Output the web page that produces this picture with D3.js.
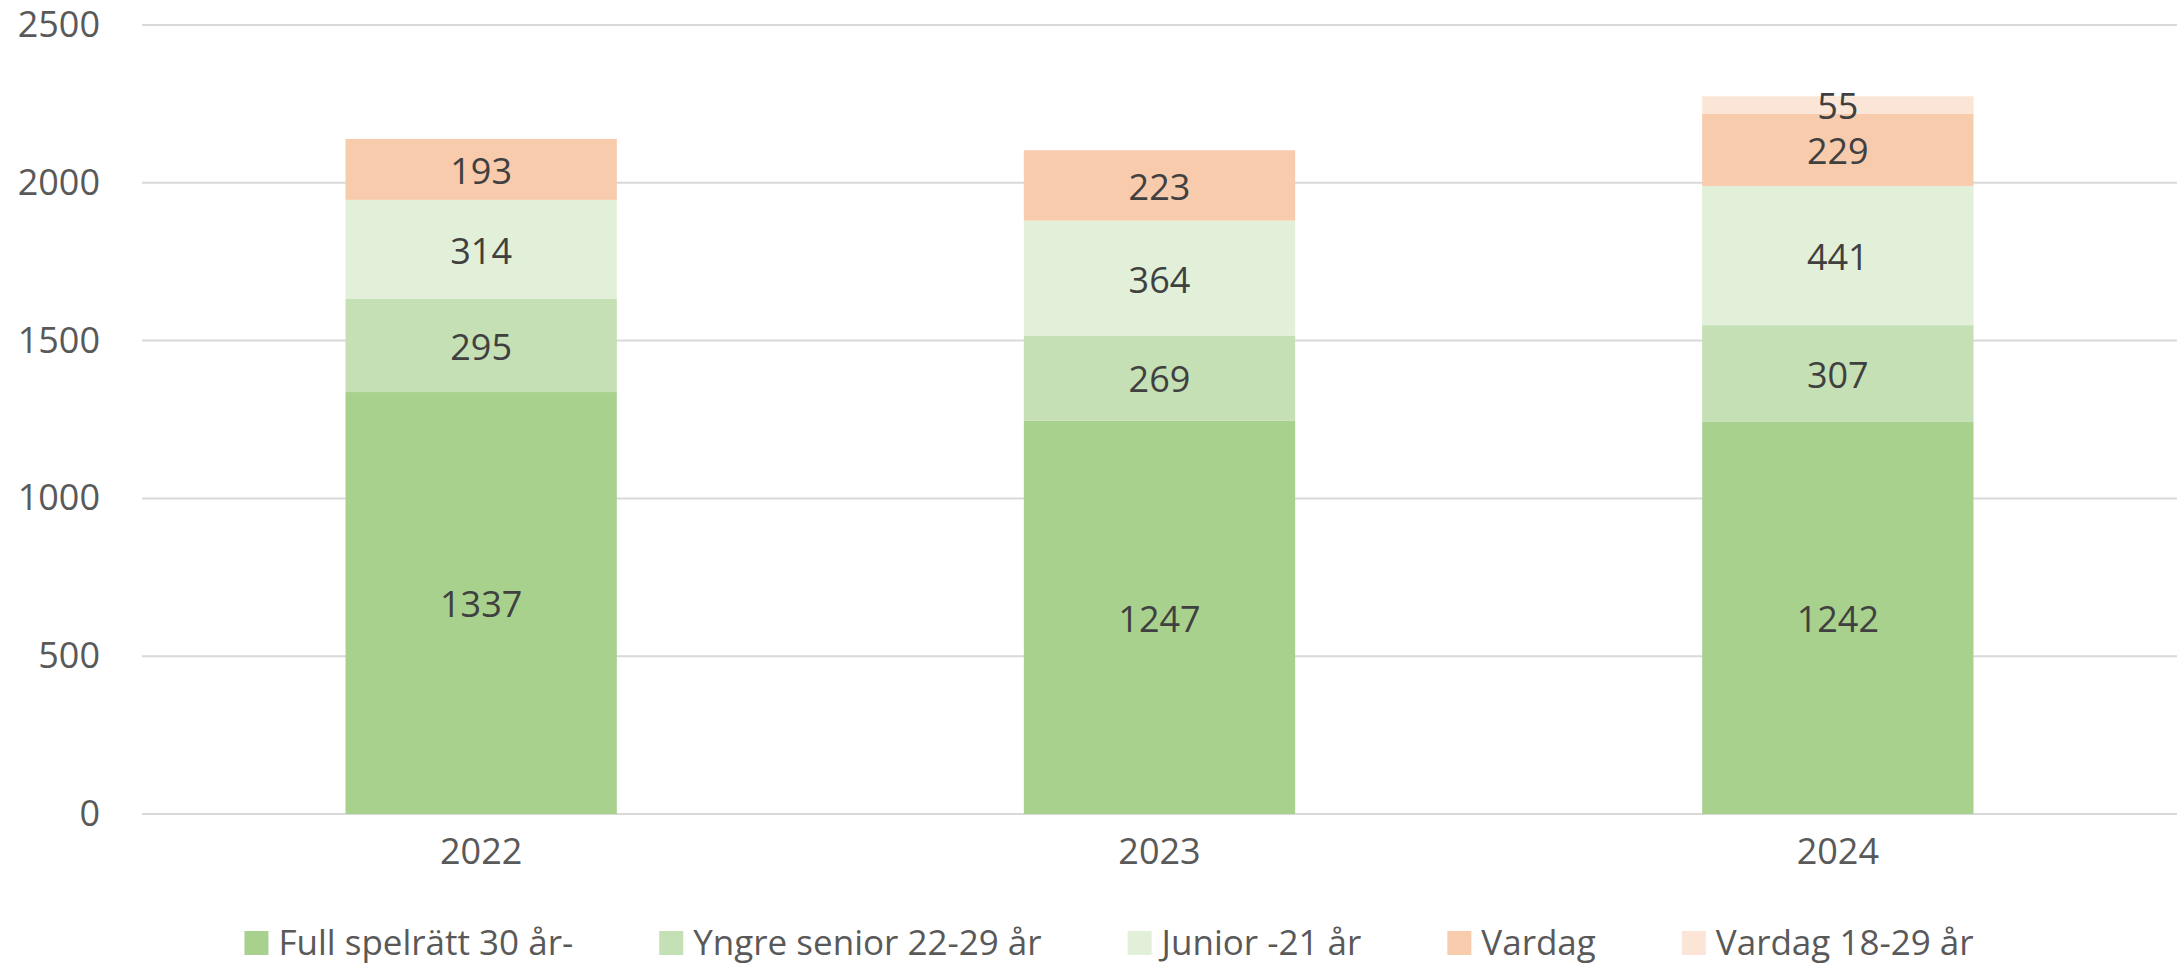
<!DOCTYPE html>
<html>
<head>
<meta charset="utf-8">
<script src="https://cdn.jsdelivr.net/npm/d3@7"></script>
<style>
  body { margin: 0; background: #fff; }
  text { font-family: "Open Sans", "Noto Sans", sans-serif; }
</style>
</head>
<body>
<div id="chart"></div>
<script>
// data
var years = ["2022", "2023", "2024"];
var seriesNames = ["Full spelrätt 30 år-", "Yngre senior 22-29 år", "Junior -21 år", "Vardag", "Vardag 18-29 år"];
var fullSpelratt = [1337, 1247, 1242];
var yngreSenior = [295, 269, 307];
var junior = [314, 364, 441];
var vardag = [193, 223, 229];
var vardag1829 = [0, 0, 55];
var yTicks = [0, 500, 1000, 1500, 2000, 2500];
var seriesColors = ["#a9d18e", "#c5e0b4", "#e2f0d9", "#f8cbad", "#fbe5d6"];

var totalWidth = 2180, totalHeight = 966;
var margin = {top: 25, right: 3, bottom: 152, left: 142},
    width = totalWidth - margin.left - margin.right,
    height = totalHeight - margin.top - margin.bottom;

var rows = years.map(function(y, i) {
    return {
        year: y,
        s0: fullSpelratt[i],
        s1: yngreSenior[i],
        s2: junior[i],
        s3: vardag[i],
        s4: vardag1829[i]
    };
});
var keys = ["s0", "s1", "s2", "s3", "s4"];

var svg = d3.select("#chart")
    .append("svg")
    .attr("width", totalWidth)
    .attr("height", totalHeight);

var g = svg.append("g")
    .attr("transform", "translate(" + margin.left + "," + margin.top + ")");

var x = d3.scaleBand()
    .domain(years)
    .range([0, width])
    .paddingInner(0.6)
    .paddingOuter(0.3);

var y = d3.scaleLinear()
    .domain([0, 2500])
    .range([height, 0]);

// gridlines
g.append("g")
    .selectAll("line")
    .data(yTicks)
    .enter()
    .append("line")
    .attr("x1", 0)
    .attr("x2", width)
    .attr("y1", function(d) { return y(d); })
    .attr("y2", function(d) { return y(d); })
    .style("stroke", "#d9d9d9")
    .style("stroke-width", 2);

// y axis labels
var yAxis = g.append("g")
    .call(d3.axisLeft(y).tickValues(yTicks).tickFormat(d3.format("d")).tickSize(0).tickPadding(42));
yAxis.select(".domain").remove();
yAxis.selectAll("text")
    .style("font-size", "36px")
    .style("font-family", "'Open Sans', sans-serif")
    .style("fill", "#595959");

// x axis labels
var xAxis = g.append("g")
    .attr("transform", "translate(0," + height + ")")
    .call(d3.axisBottom(x).tickSize(0).tickPadding(24));
xAxis.select(".domain").remove();
xAxis.selectAll("text")
    .style("font-size", "36px")
    .style("font-family", "'Open Sans', sans-serif")
    .style("fill", "#595959");

// stacked bars
var stacked = d3.stack().keys(keys)(rows);

var layers = g.append("g")
    .selectAll("g")
    .data(stacked)
    .enter()
    .append("g")
    .style("fill", function(d, i) { return seriesColors[i]; });

layers.selectAll("rect")
    .data(function(d) { return d; })
    .enter()
    .append("rect")
    .attr("x", function(d) { return x(d.data.year); })
    .attr("y", function(d) { return y(d[1]); })
    .attr("width", x.bandwidth())
    .attr("height", function(d) { return y(d[0]) - y(d[1]); });

// data labels
layers.selectAll("text")
    .data(function(d) { return d.filter(function(p) { return p[1] - p[0] > 0; }); })
    .enter()
    .append("text")
    .attr("x", function(d) { return x(d.data.year) + x.bandwidth() / 2; })
    .attr("y", function(d) { return (y(d[0]) + y(d[1])) / 2; })
    .attr("text-anchor", "middle")
    .attr("dy", "0.4em")
    .style("font-size", "36px")
    .style("fill", "#404040")
    .text(function(d) { return d[1] - d[0]; });

// legend
var legend = svg.append("g");
var swatch = 24, textGap = 10, itemGap = 86, legendCenter = 1109, legendY = 943;

var items = legend.selectAll("g")
    .data(seriesNames)
    .enter()
    .append("g");

items.append("rect")
    .attr("width", swatch)
    .attr("height", swatch)
    .attr("y", legendY - swatch / 2)
    .style("fill", function(d, i) { return seriesColors[i]; });

items.append("text")
    .attr("x", swatch + textGap)
    .attr("y", legendY)
    .attr("dy", "0.35em")
    .style("font-size", "35px")
    .style("fill", "#595959")
    .text(function(d) { return d; });

var widths = [];
items.each(function() {
    widths.push(swatch + textGap + d3.select(this).select("text").node().getComputedTextLength());
});
var total = d3.sum(widths) + itemGap * (widths.length - 1);
var pos = legendCenter - total / 2;
items.attr("transform", function(d, i) {
    var px = pos;
    pos += widths[i] + itemGap;
    return "translate(" + px + ",0)";
});
</script>
</body>
</html>
